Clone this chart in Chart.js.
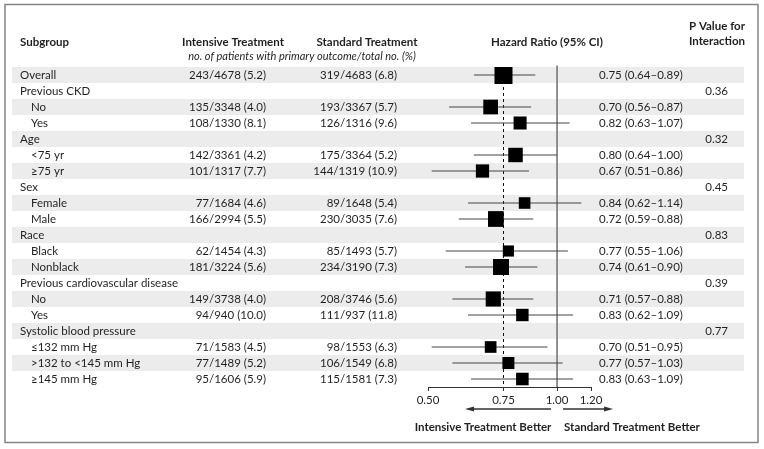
<!DOCTYPE html>
<html>
<head>
<meta charset="utf-8">
<script src="https://cdn.jsdelivr.net/npm/chart.js@4/dist/chart.umd.min.js"></script>
<style>
  body { margin: 0; background: #fff; }
  canvas { display: block; }
</style>
</head>
<body>
<canvas id="forest" width="764" height="449"></canvas>
<script>
// Forest plot - primary outcome by subgroup

const rowLabels = ['Overall', 'Previous CKD', 'No', 'Yes', 'Age', '<75 yr', '≥75 yr', 'Sex', 'Female', 'Male',
    'Race', 'Black', 'Nonblack', 'Previous cardiovascular disease', 'No', 'Yes',
    'Systolic blood pressure', '≤132 mm Hg', '>132 to <145 mm Hg', '≥145 mm Hg'];
const isSubRow = [false, false, true, true, false, true, true, false, true, true,
    false, true, true, false, true, true, false, true, true, true];

const intensiveEvents = [243, null, 135, 108, null, 142, 101, null, 77, 166, null, 62, 181, null, 149, 94, null, 71, 77, 95];
const intensiveTotal = [4678, null, 3348, 1330, null, 3361, 1317, null, 1684, 2994, null, 1454, 3224, null, 3738, 940, null, 1583, 1489, 1606];
const intensivePct = [5.2, null, 4.0, 8.1, null, 4.2, 7.7, null, 4.6, 5.5, null, 4.3, 5.6, null, 4.0, 10.0, null, 4.5, 5.2, 5.9];

const standardEvents = [319, null, 193, 126, null, 175, 144, null, 89, 230, null, 85, 234, null, 208, 111, null, 98, 106, 115];
const standardTotal = [4683, null, 3367, 1316, null, 3364, 1319, null, 1648, 3035, null, 1493, 3190, null, 3746, 937, null, 1553, 1549, 1581];
const standardPct = [6.8, null, 5.7, 9.6, null, 5.2, 10.9, null, 5.4, 7.6, null, 5.7, 7.3, null, 5.6, 11.8, null, 6.3, 6.8, 7.3];

const hazardRatio = [0.75, null, 0.70, 0.82, null, 0.80, 0.67, null, 0.84, 0.72, null, 0.77, 0.74, null, 0.71, 0.83, null, 0.70, 0.77, 0.83];
const ciLow = [0.64, null, 0.56, 0.63, null, 0.64, 0.51, null, 0.62, 0.59, null, 0.55, 0.61, null, 0.57, 0.62, null, 0.51, 0.57, 0.63];
const ciHigh = [0.89, null, 0.87, 1.07, null, 1.00, 0.86, null, 1.14, 0.88, null, 1.06, 0.90, null, 0.88, 1.09, null, 0.95, 1.03, 1.09];

const pInteraction = [null, 0.36, null, null, 0.32, null, null, 0.45, null, null, 0.83, null, null, 0.39, null, null, 0.77, null, null, null];

const xTicks = [0.50, 0.75, 1.00, 1.20];

const FONT = 'Lato, "Open Sans", sans-serif';
const TEXT = '#231f20';

// box side grows with number of events (area ~ events)
function boxSide(i) {
    const events = intensiveEvents[i] + standardEvents[i];
    return 4 + 14 * Math.sqrt(events / 562);
}

const dataRows = rowLabels.map((_, i) => i).filter(i => hazardRatio[i] !== null);

const boxPoints = dataRows.map(i => ({x: hazardRatio[i], y: i}));
const boxRadius = dataRows.map(i => boxSide(i) / 2 / Math.SQRT1_2);

const whiskerPoints = [];
dataRows.forEach(i => {
    whiskerPoints.push({x: ciLow[i], y: i});
    whiskerPoints.push({x: ciHigh[i], y: i});
    whiskerPoints.push({x: null, y: null});
});

const nRows = rowLabels.length;

// Table text, shading, arrows
const forestDecor = {
    id: 'forestDecor',
    beforeDraw(chart) {
        const ctx = chart.ctx;
        const y = chart.scales.y;
        const h = Math.abs(y.getPixelForValue(1) - y.getPixelForValue(0));
        ctx.save();
        ctx.fillStyle = '#fff';
        ctx.fillRect(0, 0, chart.width, chart.height);
        ctx.fillStyle = '#ececec';
        rowLabels.forEach((_, i) => {
            if (i % 2 === 0) ctx.fillRect(12, y.getPixelForValue(i) - h / 2, 732, h);
        });
        ctx.strokeStyle = '#858585';
        ctx.lineWidth = 1.5;
        ctx.strokeRect(5, 4.5, 753, 438);
        ctx.restore();
    },
    afterDraw(chart) {
        const ctx = chart.ctx;
        const x = chart.scales.x;
        const y = chart.scales.y;
        const one = x.getPixelForValue(1);
        ctx.save();
        ctx.fillStyle = TEXT;
        ctx.textBaseline = 'middle';

        // headers
        ctx.font = 'bold 11.5px ' + FONT;
        ctx.textAlign = 'left';
        ctx.fillText('Subgroup', 20, 42);
        ctx.textAlign = 'center';
        ctx.fillText('Intensive Treatment', 233, 42);
        ctx.fillText('Standard Treatment', 367, 42);
        ctx.fillText('Hazard Ratio (95% CI)', 547, 42);
        ctx.fillText('P Value for', 717, 26);
        ctx.fillText('Interaction', 717, 41);
        ctx.font = 'italic 11px ' + FONT;
        ctx.fillText('no. of patients with primary outcome/total no. (%)', 302, 56);

        // rows
        ctx.font = '11.5px ' + FONT;
        rowLabels.forEach((label, i) => {
            const yy = y.getPixelForValue(i);
            ctx.textAlign = 'left';
            ctx.fillText(label, isSubRow[i] ? 31 : 20, yy);
            if (intensiveEvents[i] !== null) {
                ctx.textAlign = 'right';
                ctx.fillText(`${intensiveEvents[i]}/${intensiveTotal[i]} (${intensivePct[i].toFixed(1)})`, 266, yy);
                ctx.fillText(`${standardEvents[i]}/${standardTotal[i]} (${standardPct[i].toFixed(1)})`, 397, yy);
                ctx.textAlign = 'left';
                ctx.fillText(`${hazardRatio[i].toFixed(2)} (${ciLow[i].toFixed(2)}\u2013${ciHigh[i].toFixed(2)})`, 599, yy);
            }
            if (pInteraction[i] !== null) {
                ctx.textAlign = 'right';
                ctx.fillText(pInteraction[i].toFixed(2), 728, yy);
            }
        });

        // direction arrows
        const ay = 409;
        ctx.strokeStyle = '#333';
        ctx.fillStyle = '#333';
        ctx.lineWidth = 1.3;
        drawArrow(ctx, one - 6, one - 92, ay);
        drawArrow(ctx, one + 6, one + 56, ay);

        ctx.fillStyle = TEXT;
        ctx.font = 'bold 11.5px ' + FONT;
        ctx.textAlign = 'center';
        ctx.fillText('Intensive Treatment Better', one - 74, 427);
        ctx.textAlign = 'left';
        ctx.fillText('Standard Treatment Better', one + 7, 427);
        ctx.restore();
    }
};

function drawArrow(ctx, fromX, toX, yy) {
    const dir = toX > fromX ? 1 : -1;
    ctx.beginPath();
    ctx.moveTo(fromX, yy);
    ctx.lineTo(toX - dir * 6, yy);
    ctx.stroke();
    ctx.beginPath();
    ctx.moveTo(toX, yy);
    ctx.lineTo(toX - dir * 9, yy - 2.5);
    ctx.lineTo(toX - dir * 9, yy + 2.5);
    ctx.closePath();
    ctx.fill();
}

function initChart() {
    const ctx = document.getElementById('forest').getContext('2d');
    new Chart(ctx, {
        type: 'scatter',
        data: {
            datasets: [
                {
                    label: 'Hazard ratio',
                    data: boxPoints,
                    pointStyle: 'rect',
                    pointRadius: boxRadius,
                    pointHoverRadius: boxRadius,
                    backgroundColor: '#000',
                    borderColor: '#000',
                    borderWidth: 0
                },
                {
                    label: '95% CI',
                    type: 'line',
                    data: whiskerPoints,
                    borderColor: '#444',
                    borderWidth: 1,
                    pointRadius: 0,
                    spanGaps: false
                },
                {
                    label: 'Overall',
                    type: 'line',
                    data: [{x: 0.75, y: 0}, {x: 0.75, y: nRows - 0.5}],
                    borderColor: '#111',
                    borderWidth: 1,
                    borderDash: [3, 3],
                    pointRadius: 0
                },
                {
                    label: 'No effect',
                    type: 'line',
                    data: [{x: 1, y: -0.6}, {x: 1, y: nRows - 0.5}],
                    borderColor: '#6f6f6f',
                    borderWidth: 1.5,
                    pointRadius: 0,
                    clip: false
                }
            ]
        },
        options: {
            responsive: false,
            animation: false,
            events: [],
            layout: {
                padding: {left: 428, right: 173, top: 67, bottom: 44}
            },
            plugins: {
                legend: {display: false},
                tooltip: {enabled: false}
            },
            scales: {
                x: {
                    type: 'logarithmic',
                    min: 0.5,
                    max: 1.2,
                    afterBuildTicks: scale => {
                        scale.ticks = xTicks.map(v => ({value: v}));
                    },
                    afterFit: scale => {
                        scale.height = 18;
                    },
                    ticks: {
                        autoSkip: false,
                        maxRotation: 0,
                        padding: 2,
                        color: TEXT,
                        font: {family: FONT, size: 11.5},
                        callback: v => Number(v).toFixed(2)
                    },
                    grid: {
                        display: true,
                        drawOnChartArea: false,
                        drawTicks: true,
                        tickLength: 4,
                        color: '#333'
                    },
                    border: {display: true, color: '#333', width: 1}
                },
                y: {
                    type: 'linear',
                    display: false,
                    reverse: true,
                    min: -0.5,
                    max: nRows - 0.5
                }
            }
        },
        plugins: [forestDecor]
    });
}

initChart();
</script>
</body>
</html>
